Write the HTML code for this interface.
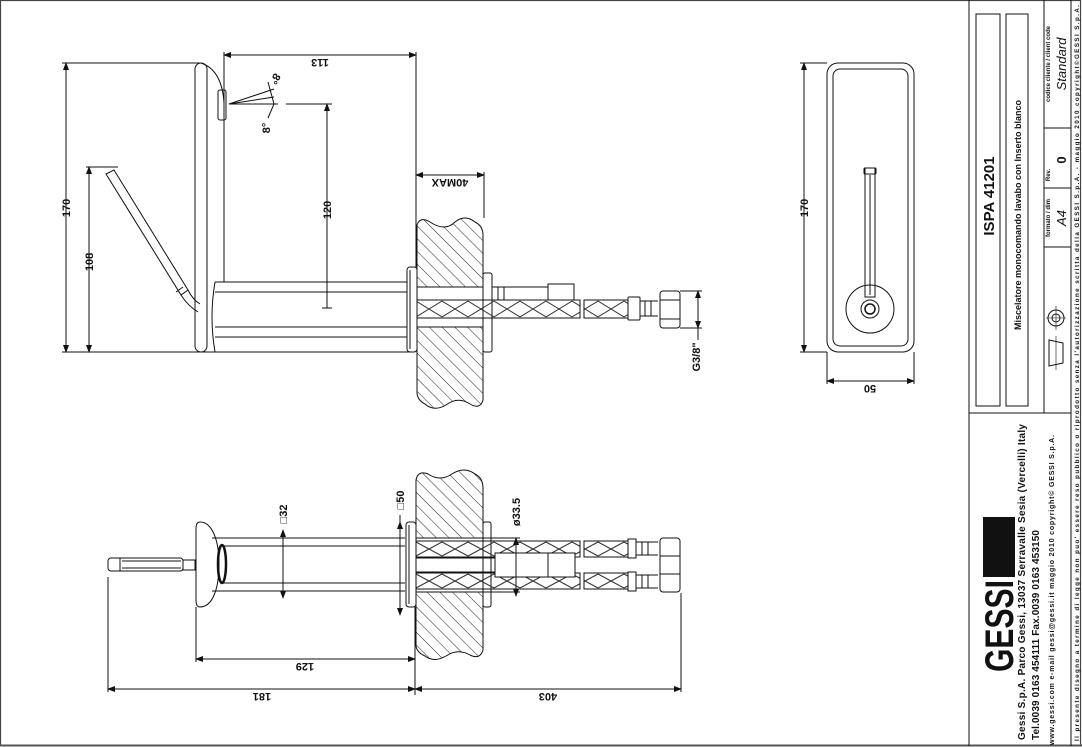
<!DOCTYPE html>
<html><head><meta charset="utf-8"><style>
html,body{margin:0;padding:0;background:#fff;}
svg{display:block;}
text{font-family:"Liberation Sans",sans-serif;fill:#111;}
.d{font-size:11px;font-weight:bold;}
.t{font-weight:bold;}
</style></head><body>
<svg width="1082" height="747" viewBox="0 0 1082 747" xmlns="http://www.w3.org/2000/svg">
<defs>
<pattern id="hatch" patternUnits="userSpaceOnUse" width="9" height="9" patternTransform="rotate(-45)">
<line x1="0" y1="0" x2="0" y2="9" stroke="#222" stroke-width="1"/></pattern>
<pattern id="h1" patternUnits="userSpaceOnUse" x="0" y="300" width="26" height="18">
<path d="M0,1 L26,17 M0,17 L26,1" stroke="#333" stroke-width="1" fill="none"/></pattern>
<pattern id="h2" patternUnits="userSpaceOnUse" x="0" y="541" width="26" height="16">
<path d="M0,1 L26,15 M0,15 L26,1" stroke="#333" stroke-width="1" fill="none"/></pattern>
<pattern id="h3" patternUnits="userSpaceOnUse" x="0" y="573" width="26" height="16">
<path d="M0,1 L26,15 M0,15 L26,1" stroke="#333" stroke-width="1" fill="none"/></pattern>
<marker id="a" markerWidth="8" markerHeight="6" refX="7" refY="3" orient="auto"><path d="M0,0 L8,3 L0,6 Z" fill="#111"/></marker>
<marker id="b" markerWidth="8" markerHeight="6" refX="1" refY="3" orient="auto"><path d="M8,0 L0,3 L8,6 Z" fill="#111"/></marker>
</defs>

<rect x="0.5" y="0.5" width="1080" height="745" fill="none" stroke="#444" stroke-width="1.2"/>
<line x1="0" y1="745.5" x2="1082" y2="745.5" stroke="#555" stroke-width="2"/>

<g fill="none" stroke="#111" stroke-width="1">
<!-- TOP VIEW -->
<rect x="195" y="63" width="12" height="289" rx="6"/>
<path d="M201,63 Q222,70 224,103 L224,282"/>
<rect x="218" y="90" width="8" height="30" rx="2"/>
<path d="M215,282 L407,282 M215,292 L407,292 M215,327 L407,327 M215,337 L407,337 M207,352 L407,352"/>
<path d="M215,282 Q209,317 215,352"/>
<path d="M106,174 L114,170 L188,290 L181,295 Z"/>
<path d="M181,295 Q188,306 198,312 M188,290 Q193,300 200,304"/>
<line x1="183" y1="287" x2="176" y2="292"/>
<rect x="407" y="267" width="10" height="85" rx="3"/>
<line x1="410" y1="270" x2="410" y2="349"/>
<path d="M417,225 Q420,216 430,222 Q445,232 455,222 Q465,214 475,222 Q483,226 483,235 L483,400 Q480,410 470,404 Q458,396 446,405 Q434,412 425,404 Q417,400 417,392 Z" fill="url(#hatch)"/>
<rect x="417.5" y="287" width="65" height="40" fill="#fff" stroke="none"/>
<line x1="417" y1="287" x2="483" y2="287"/><line x1="417" y1="327" x2="483" y2="327"/>
<rect x="483" y="273" width="9" height="79" rx="2"/>
<rect x="492" y="287" width="56" height="13"/>
<rect x="498" y="287" width="6" height="13"/>
<rect x="548" y="284" width="26" height="16"/>
<rect x="417" y="300" width="163" height="18" fill="url(#h1)"/>
<rect x="584" y="300" width="44" height="18" fill="url(#h1)"/>
<rect x="628" y="297" width="12" height="23" rx="1"/>
<path d="M640,301 L658,301 M640,316 L658,316 M645,301 L645,316 M651,301 L651,316"/>
<rect x="660" y="291" width="20" height="37" rx="3"/>
<path d="M660,300 L680,300 M660,319 L680,319"/>
<path d="M62,63 L200,63 M62,352 L410,352 M86,167 L118,167"/>
<line x1="66" y1="63" x2="66" y2="352" marker-start="url(#b)" marker-end="url(#a)"/>
<line x1="89" y1="167" x2="89" y2="352" marker-start="url(#b)" marker-end="url(#a)"/>
<path d="M224,52 L224,103 M416,52 L416,267"/>
<line x1="224" y1="55" x2="416" y2="55" marker-start="url(#b)" marker-end="url(#a)"/>
<path d="M286,104 L332,104"/>
<line x1="327" y1="104" x2="327" y2="308" marker-start="url(#b)"/>
<line x1="322" y1="308" x2="332" y2="308"/>
<path d="M484,172 L484,218"/>
<line x1="416" y1="175" x2="484" y2="175" marker-start="url(#b)" marker-end="url(#a)"/>
<path d="M229,104 L274,89 M229,104 L274,97 M229,104 L278,104 M268,82 L274,104 L268,118"/>
<path d="M680,291 L702,291 M680,328 L702,328"/>
<line x1="698" y1="291" x2="698" y2="328" marker-start="url(#b)" marker-end="url(#a)"/>
<line x1="698" y1="328" x2="698" y2="340"/>

<!-- BOTTOM VIEW -->
<rect x="108" y="558" width="75" height="13" rx="3"/>
<line x1="120" y1="558" x2="120" y2="571"/>
<path d="M122,561 L181,561 M122,568 L181,568"/>
<rect x="183" y="560" width="12" height="10"/>
<path d="M200,522 C212,522 219,540 219,564 C219,590 212,607 200,607 Q196,607 196,600 L196,529 Q196,522 200,522 Z"/>
<ellipse cx="222" cy="564" rx="4" ry="19" stroke-width="2.5"/>
<path d="M212,538 L405,538 M222,546 L405,546 M222,583 L405,583 M212,591 L405,591"/>
<rect x="406" y="522" width="10" height="85" rx="3"/>
<line x1="409" y1="525" x2="409" y2="604"/>
<path d="M416,480 Q418,470 428,474 Q440,482 452,474 Q464,466 475,474 Q483,478 483,488 L483,650 Q480,660 470,655 Q458,648 446,656 Q434,663 425,656 Q416,652 416,645 Z" fill="url(#hatch)"/>
<rect x="416.5" y="538" width="66" height="54" fill="#fff" stroke="none"/>
<line x1="416" y1="538" x2="483" y2="538"/><line x1="416" y1="592" x2="483" y2="592"/>
<rect x="483" y="522" width="8" height="85" rx="2"/>
<rect x="416" y="541" width="164" height="16" fill="url(#h2)"/>
<rect x="416" y="573" width="164" height="16" fill="url(#h3)"/>
<rect x="584" y="541" width="44" height="16" fill="url(#h2)"/>
<rect x="584" y="573" width="44" height="16" fill="url(#h3)"/>
<path d="M416,558 L495,558 M416,572 L495,572"/>
<rect x="495" y="553" width="80" height="24" fill="#fff"/>
<line x1="548" y1="553" x2="548" y2="577"/>
<rect x="628" y="539" width="8" height="19"/><rect x="628" y="572" width="8" height="19"/>
<path d="M636,542 L658,542 M636,555 L658,555 M636,575 L658,575 M636,588 L658,588 M642,542 L642,555 M648,542 L648,555 M642,575 L642,588 M648,575 L648,588"/>
<rect x="660" y="538" width="20" height="54" rx="3"/>
<path d="M660,556 L680,556 M660,574 L680,574"/>
<line x1="283" y1="530" x2="283" y2="598" marker-start="url(#b)" marker-end="url(#a)"/>
<line x1="400" y1="515" x2="400" y2="522"/>
<line x1="400" y1="522" x2="400" y2="615" marker-start="url(#b)" marker-end="url(#a)"/>
<path d="M483,538 L520,538 M483,592 L520,592"/>
<line x1="516" y1="538" x2="516" y2="596" marker-start="url(#b)" marker-end="url(#a)"/>
<path d="M196,607 L196,662 M415,607 L415,695 M108,577 L108,692 M681,593 L681,692"/>
<line x1="196" y1="659" x2="415" y2="659" marker-start="url(#b)" marker-end="url(#a)"/>
<line x1="108" y1="689" x2="415" y2="689" marker-start="url(#b)" marker-end="url(#a)"/>
<line x1="415" y1="689" x2="681" y2="689" marker-start="url(#b)" marker-end="url(#a)"/>

<!-- FRONT VIEW -->
<rect x="827" y="63" width="87" height="289" rx="11"/>
<rect x="833" y="69" width="75" height="277" rx="7"/>
<rect x="865" y="168" width="10" height="129"/>
<rect x="864" y="168" width="12" height="6" rx="1"/>
<line x1="870" y1="175" x2="870" y2="295"/>
<circle cx="870" cy="309" r="24"/>
<circle cx="870" cy="309" r="9"/>
<circle cx="870" cy="309" r="5" stroke-width="1.5"/>
<path d="M800,63 L827,63 M800,352 L827,352 M827,352 L827,384 M914,352 L914,384"/>
<line x1="804" y1="63" x2="804" y2="352" marker-start="url(#b)" marker-end="url(#a)"/>
<line x1="827" y1="381" x2="914" y2="381" marker-start="url(#b)" marker-end="url(#a)"/>

<!-- TITLE BLOCK -->
<line x1="969" y1="0" x2="969" y2="746"/>
<line x1="969" y1="413" x2="1071" y2="413"/>
<line x1="1044" y1="0" x2="1044" y2="413"/>
<line x1="1071" y1="0" x2="1071" y2="746"/>
<path d="M1044,128 L1071,128 M1044,188 L1071,188 M1044,247 L1071,247"/>
<rect x="976" y="14" width="24" height="392"/>
<rect x="1006" y="14" width="22" height="392"/>
<path d="M1049,340 L1063,343 L1063,363 L1049,366 Z"/>
<circle cx="1056" cy="318" r="8"/><circle cx="1056" cy="318" r="4"/>
<path d="M1046,318 L1066,318 M1056,306 L1056,330 M1056,336 L1056,370" stroke-width="0.6"/>
</g>

<!-- logo -->
<rect x="983" y="517" width="32" height="60" fill="#111"/>
<text class="t" transform="translate(1013,626) rotate(-90)" text-anchor="middle" font-size="40" textLength="92" lengthAdjust="spacingAndGlyphs" style="font-weight:bold">GESSI</text>

<!-- dimension texts -->
<text class="d" transform="translate(70,208) rotate(-90)" text-anchor="middle">170</text>
<text class="d" transform="translate(93,262) rotate(-90)" text-anchor="middle">108</text>
<text class="d" transform="translate(320,59) rotate(180)" text-anchor="middle">113</text>
<text class="d" transform="translate(331,210) rotate(-90)" text-anchor="middle">120</text>
<text class="d" transform="translate(450,179) rotate(180)" text-anchor="middle">40MAX</text>
<text class="d" transform="translate(272,77) rotate(120)" text-anchor="middle" font-size="9">8°</text>
<text class="d" transform="translate(270,128) rotate(-90)" text-anchor="middle" font-size="9">8°</text>
<text class="d" transform="translate(700,357) rotate(-90)" text-anchor="middle" font-size="10">G3/8"</text>
<text class="d" transform="translate(287,514) rotate(-90)" text-anchor="middle">□32</text>
<text class="d" transform="translate(404,500) rotate(-90)" text-anchor="middle">□50</text>
<text class="d" transform="translate(520,512) rotate(-90)" text-anchor="middle">ø33.5</text>
<text class="d" transform="translate(305,663) rotate(180)" text-anchor="middle">129</text>
<text class="d" transform="translate(262,693) rotate(180)" text-anchor="middle">181</text>
<text class="d" transform="translate(548,693) rotate(180)" text-anchor="middle">403</text>
<text class="d" transform="translate(808,208) rotate(-90)" text-anchor="middle">170</text>
<text class="d" transform="translate(870,385) rotate(180)" text-anchor="middle">50</text>

<!-- title texts -->
<text class="t" transform="translate(994,196) rotate(-90)" text-anchor="middle" font-size="15">ISPA  41201</text>
<text class="t" transform="translate(1021,215) rotate(-90)" text-anchor="middle" font-size="9">Miscelatore monocomando lavabo con Inserto blanco</text>
<text class="t" transform="translate(1050,218) rotate(-90)" text-anchor="middle" font-size="6">formato / dim</text>
<text transform="translate(1066,218) rotate(-90)" text-anchor="middle" font-size="13" font-style="italic">A4</text>
<text class="t" transform="translate(1050,175) rotate(-90)" text-anchor="middle" font-size="6">Rev.</text>
<text class="t" transform="translate(1066,160) rotate(-90)" text-anchor="middle" font-size="13">0</text>
<text class="t" transform="translate(1050,64) rotate(-90)" text-anchor="middle" font-size="6">codice cliente / client code</text>
<text transform="translate(1066,64) rotate(-90)" text-anchor="middle" font-size="13" font-style="italic">Standard</text>
<text class="t" transform="translate(1025,582) rotate(-90)" text-anchor="middle" font-size="10" textLength="316" lengthAdjust="spacing">Gessi  S.p.A.  Parco  Gessi,  13037  Serravalle  Sesia  (Vercelli)  Italy</text>
<text class="t" transform="translate(1039,635) rotate(-90)" text-anchor="middle" font-size="10" textLength="210" lengthAdjust="spacing">Tel.0039  0163  454111  Fax.0039  0163  453150</text>
<text class="t" transform="translate(1054,590) rotate(-90)" text-anchor="middle" font-size="7" textLength="310" lengthAdjust="spacing">www.gessi.com  e-mail  gessi@gessi.it   maggio  2010   copyright© GESSI  S.p.A.</text>
<text class="t" transform="translate(1079,373) rotate(-90)" text-anchor="middle" font-size="6.2" textLength="736" lengthAdjust="spacing">Il presente disegno a termine di legge non puo' essere reso pubblico o riprodotto senza l'autorizzazione scritta della GESSI S.p.A. - maggio 2010  copyright©GESSI S.p.A.</text>
</svg>
</body></html>
